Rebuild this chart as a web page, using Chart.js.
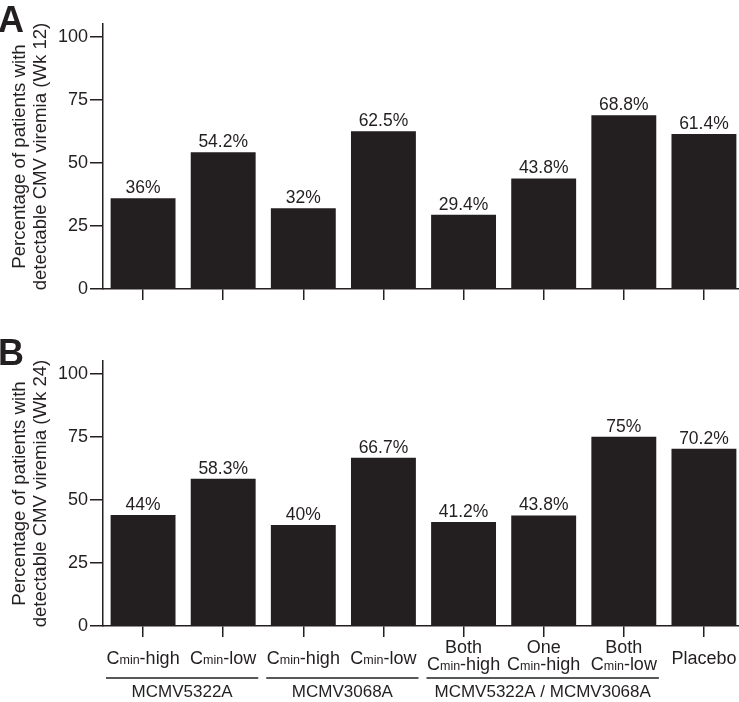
<!DOCTYPE html>
<html>
<head>
<meta charset="utf-8">
<script src="https://cdn.jsdelivr.net/npm/chart.js@4"></script>
<style>
  html, body { margin: 0; padding: 0; background: #fff; }
  #wrap { position: relative; width: 739px; height: 702px; overflow: hidden; }
  canvas { position: absolute; left: 0; }
  #chartA { top: 0; }
  #chartB { top: 305px; }
</style>
</head>
<body>
<div id="wrap">
  <canvas id="chartA" width="745" height="305"></canvas>
  <canvas id="chartB" width="745" height="397"></canvas>
</div>
<script>
// categories (text in {} is drawn as subscript)
const categories = [
  ['C{min}-high'],
  ['C{min}-low'],
  ['C{min}-high'],
  ['C{min}-low'],
  ['Both', 'C{min}-high'],
  ['One', 'C{min}-high'],
  ['Both', 'C{min}-low'],
  ['Placebo']
];
const groupNames = ['MCMV5322A', 'MCMV3068A', 'MCMV5322A / MCMV3068A'];
const groupFirst = [0, 2, 4];
const groupLast = [1, 3, 6];

const week12 = [36, 54.2, 32, 62.5, 29.4, 43.8, 68.8, 61.4];
const week24 = [44, 58.3, 40, 66.7, 41.2, 43.8, 75, 70.2];
const yTicks = [0, 25, 50, 75, 100];

const INK = '#231f20';
const FAMILY = '"Liberation Sans", Arial, sans-serif';
Chart.defaults.font.family = FAMILY;
Chart.defaults.color = INK;

// percentages above the bars
const valueLabels = {
  id: 'valueLabels',
  afterDatasetsDraw(chart) {
    const ctx = chart.ctx;
    const meta = chart.getDatasetMeta(0);
    const vals = chart.data.datasets[0].data;
    ctx.save();
    ctx.font = '17.5px ' + FAMILY;
    ctx.fillStyle = INK;
    ctx.textAlign = 'center';
    ctx.textBaseline = 'alphabetic';
    meta.data.forEach((bar, i) => {
      ctx.fillText(vals[i] + '%', bar.x, bar.y - 5);
    });
    ctx.restore();
  }
};

// panel letter (A / B)
const panelLetter = {
  id: 'panelLetter',
  afterDraw(chart, args, opts) {
    const ctx = chart.ctx;
    ctx.save();
    ctx.font = 'bold 36px ' + FAMILY;
    ctx.fillStyle = INK;
    ctx.textAlign = 'left';
    ctx.textBaseline = 'alphabetic';
    ctx.fillText(opts.text, -2, opts.y);
    ctx.restore();
  }
};

function drawRich(ctx, text, cx, y) {
  const segs = text.split(/(\{[^}]*\})/).filter(s => s).map(s =>
    s[0] === '{' ? { t: s.slice(1, -1), f: '12.5px ' + FAMILY } : { t: s, f: '18px ' + FAMILY });
  let total = 0;
  segs.forEach(s => { ctx.font = s.f; s.w = ctx.measureText(s.t).width; total += s.w; });
  let x = cx - total / 2;
  segs.forEach(s => { ctx.font = s.f; ctx.fillText(s.t, x, y); x += s.w; });
}

// category labels and group brackets under panel B
const categoryLabels = {
  id: 'categoryLabels',
  afterDraw(chart) {
    const ctx = chart.ctx;
    const x = chart.scales.x;
    const bottom = chart.chartArea.bottom;
    ctx.save();
    ctx.fillStyle = INK;
    ctx.textAlign = 'left';
    ctx.textBaseline = 'alphabetic';
    categories.forEach((lines, i) => {
      const cx = x.getPixelForValue(i);
      if (lines.length === 1) {
        drawRich(ctx, lines[0], cx, bottom + 38);
      } else {
        lines.forEach((ln, k) => drawRich(ctx, ln, cx, bottom + 27 + k * 17));
      }
    });
    const band = x.getPixelForValue(1) - x.getPixelForValue(0);
    ctx.strokeStyle = INK;
    ctx.lineWidth = 1.5;
    ctx.font = '17px ' + FAMILY;
    ctx.textAlign = 'center';
    groupNames.forEach((name, g) => {
      const x0 = x.getPixelForValue(groupFirst[g]) - band / 2 + 3;
      const x1 = x.getPixelForValue(groupLast[g]) + band / 2 - 5;
      ctx.beginPath();
      ctx.moveTo(x0, bottom + 52);
      ctx.lineTo(x1, bottom + 52);
      ctx.stroke();
      ctx.fillText(name, (x0 + x1) / 2, bottom + 71);
    });
    ctx.restore();
  }
};

function makeChart(id, values, week, padTop, xHeight, letterY, withLabels) {
  const plugins = [valueLabels, panelLetter];
  if (withLabels) plugins.push(categoryLabels);
  return new Chart(document.getElementById(id).getContext('2d'), {
    type: 'bar',
    data: {
      labels: categories.map(c => c.join(' ')),
      datasets: [{
        data: values,
        backgroundColor: INK,
        borderWidth: 0,
        barPercentage: 0.81,
        categoryPercentage: 1
      }]
    },
    plugins: plugins,
    options: {
      responsive: false,
      animation: false,
      layout: { padding: { top: padTop, right: 1, left: 0, bottom: 0 } },
      plugins: {
        legend: { display: false },
        tooltip: { enabled: false },
        panelLetter: { text: id === 'chartA' ? 'A' : 'B', y: letterY }
      },
      scales: {
        x: {
          offset: true,
          grid: { display: true, drawOnChartArea: false, drawTicks: true, tickLength: 11, offset: false, color: INK, lineWidth: 1.5 },
          border: { display: true, color: INK, width: 1.5 },
          ticks: { display: false },
          afterFit: (scale) => { scale.height = xHeight; }
        },
        y: {
          min: 0,
          max: 105,
          afterBuildTicks: (scale) => { scale.ticks = yTicks.map(v => ({ value: v })); },
          ticks: { stepSize: 25, includeBounds: false, padding: 2, font: { size: 18 }, color: INK },
          grid: { display: true, drawOnChartArea: false, drawTicks: true, tickLength: 13, color: INK, lineWidth: 1.5 },
          border: { display: true, color: INK, width: 1.5 },
          title: {
            display: true,
            text: ['Percentage of patients with', 'detectable CMV viremia (' + week + ')'],
            font: { size: 18.6, lineHeight: 1.15 },
            color: INK,
            padding: { top: 9, bottom: 0 }
          },
          afterFit: (scale) => { scale.width = 103; }
        }
      }
    }
  });
}

makeChart('chartA', week12, 'Wk 12', 24, 16, 32, false);
makeChart('chartB', week24, 'Wk 24', 56, 76, 60, true);
</script>
</body>
</html>
